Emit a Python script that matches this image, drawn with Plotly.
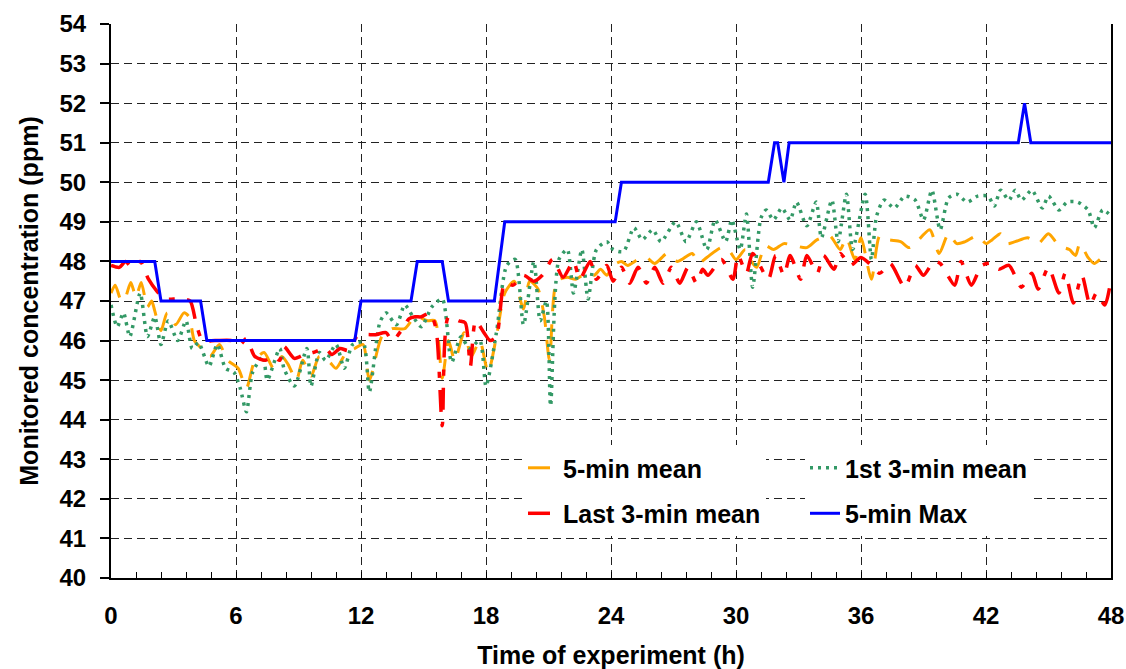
import plotly.graph_objects as go

# ---------------- data ----------------
MEAN5_H = [0.0, 0.2, 0.5, 0.7, 0.95, 1.2, 1.45, 1.75, 1.95, 2.1, 2.4, 2.7, 3.1, 3.5, 3.75, 4.0, 4.35, 4.75,
           5.2, 5.6, 6.1, 6.5, 6.9, 7.35, 7.8, 8.2, 8.5, 8.9, 9.2, 9.6, 10.0, 10.5, 10.8, 11.3, 11.7, 12.1,
           12.4, 13.0, 13.5, 14.1, 14.6, 15.2, 15.55, 15.9, 16.2, 16.5, 16.95, 17.3, 17.7, 18.1, 18.5, 18.9,
           19.35, 19.8, 20.1, 20.5, 20.8, 21.05, 21.4, 21.9, 22.3, 22.8, 23.2, 23.5, 23.8, 24.1, 24.5, 24.8,
           25.3, 25.7, 26.1, 26.7, 27.2, 27.9, 28.2, 28.6, 29.3, 29.7, 30.0, 30.45, 30.8, 31.0, 31.4, 31.8,
           32.3, 32.8, 33.4, 33.9, 34.5, 35.0, 35.3, 35.7, 36.0, 36.5, 36.9, 37.3, 37.9, 38.3, 38.6, 39.3,
           39.75, 40.2, 40.6, 41.0, 41.6, 42.0, 42.3, 42.7, 43.0, 43.4, 44.0, 44.5, 45.0, 45.5, 46.0, 46.3,
           46.5, 46.9, 47.2, 47.6, 48.0]
MEAN5 = [47.2, 47.4, 47.0, 47.1, 47.47, 47.1, 47.47, 46.85, 47.0, 46.75, 46.25, 46.7, 46.4, 46.7, 46.6, 46.0,
         45.8, 45.6, 45.9, 45.5, 45.3, 44.8, 45.5, 45.7, 45.3, 45.6, 45.4, 45.0, 45.5, 45.1, 45.6, 45.45, 45.3,
         45.7, 45.8, 45.9, 45.0, 46.1, 46.3, 46.3, 46.6, 46.5, 46.5, 45.05, 46.0, 45.5, 46.2, 45.6, 46.0, 45.2,
         46.1, 47.2, 47.5, 46.8, 47.5, 47.3, 46.6, 45.5, 47.5, 47.6, 47.55, 47.7, 47.65, 47.8, 47.65, 47.9,
         48.0, 47.9, 48.05, 48.1, 47.95, 48.2, 48.0, 48.2, 47.95, 48.1, 48.35, 48.25, 48.05, 48.3, 47.95, 47.85,
         48.4, 48.3, 48.45, 48.4, 48.35, 48.55, 48.65, 48.3, 48.6, 48.05, 48.6, 47.55, 48.65, 48.55, 48.5, 48.35,
         48.45, 48.8, 48.2, 48.7, 48.45, 48.5, 48.65, 48.45, 48.55, 48.7, 48.45, 48.5, 48.6, 48.45, 48.7, 48.4,
         48.3, 48.15, 48.45, 48.1, 47.95, 48.1, 48.1]

FIRST3_H = [0.0, 0.3, 0.6, 0.9, 1.4, 1.75, 2.1, 2.4, 2.75, 3.2, 3.6, 3.9, 4.2, 4.7, 5.1, 5.5, 5.9, 6.2, 6.5,
            6.8, 7.3, 7.5, 8.1, 8.3, 8.8, 9.4, 9.6, 10.0, 10.3, 10.8, 11.2, 11.6, 12.1, 12.4, 12.9, 13.2, 13.7,
            14.1, 14.5, 14.9, 15.4, 15.9, 16.35, 16.8, 17.2, 17.7, 18.0, 18.5, 19.0, 19.4, 19.8, 20.3, 20.6,
            20.9, 21.1, 21.5, 21.9, 22.2, 22.6, 22.9, 23.3, 23.8, 24.1, 24.6, 25.1, 25.5, 26.0, 26.4, 27.1,
            27.6, 28.1, 28.6, 29.0, 29.5, 29.8, 30.2, 30.5, 30.8, 31.2, 31.45, 31.8, 32.2, 32.6, 32.9, 33.4,
            33.85, 34.1, 34.6, 34.9, 35.3, 35.6, 36.2, 36.5, 36.75, 37.1, 37.6, 38.1, 38.6, 39.0, 39.4, 39.8,
            40.2, 40.6, 41.1, 41.6, 42.1, 42.4, 42.7, 43.1, 43.4, 43.7, 44.2, 44.7, 45.0, 45.5, 45.9, 46.4,
            46.9, 47.2, 47.6, 48.0]
FIRST3 = [46.9, 46.35, 46.7, 46.1, 47.2, 46.1, 46.6, 45.9, 46.5, 46.0, 46.5, 45.8, 45.95, 45.35, 45.9, 45.3,
          45.2, 44.8, 44.2, 45.2, 45.6, 45.0, 45.8, 45.3, 44.85, 45.8, 44.85, 45.7, 45.5, 45.9, 45.3, 45.9,
          45.95, 44.7, 46.45, 46.7, 46.4, 46.9, 46.6, 46.35, 46.85, 47.05, 45.45, 46.1, 45.8, 46.0, 44.85, 46.2,
          47.9, 48.05, 46.4, 48.0, 46.5, 47.0, 44.35, 48.05, 48.3, 47.2, 48.3, 47.05, 48.3, 48.5, 48.3, 48.25,
          48.85, 48.55, 48.8, 48.5, 49.0, 48.5, 49.0, 48.3, 49.05, 48.5, 49.05, 48.3, 49.2, 47.35, 49.1, 49.3,
          49.05, 49.35, 49.05, 49.5, 48.9, 49.5, 48.6, 49.55, 48.5, 49.7, 48.3, 49.7, 48.05, 49.15, 49.55, 49.35,
          49.65, 49.55, 49.05, 49.8, 48.8, 49.6, 49.7, 49.5, 49.65, 49.65, 49.4, 49.8, 49.55, 49.8, 49.55, 49.8,
          49.35, 49.65, 49.3, 49.5, 49.5, 49.3, 48.85, 49.3, 49.15]

LAST3_H = [0.0, 0.4, 0.7, 1.0, 1.4, 1.8, 2.2, 2.6, 3.0, 3.4, 3.8, 4.1, 4.4, 5.0, 5.8, 6.2, 6.5, 6.9, 7.4, 7.8,
           8.1, 8.3, 8.8, 9.3, 9.7, 10.3, 10.6, 11.0, 11.4, 11.8, 12.2, 12.7, 13.2, 13.5, 14.0, 14.3, 14.6,
           14.9, 15.3, 15.6, 15.9, 16.2, 16.7, 17.0, 17.25, 17.5, 17.9, 18.2, 18.5, 18.9, 19.3, 19.8, 20.3,
           20.7, 21.2, 21.7, 22.2, 22.5, 23.0, 23.3, 23.8, 24.1, 24.5, 24.9, 25.3, 25.7, 26.1, 26.5, 26.9,
           27.3, 27.7, 28.1, 28.4, 28.65, 29.3, 29.85, 30.1, 30.5, 30.8, 31.55, 31.9, 32.3, 32.6, 33.1, 33.4,
           33.9, 34.2, 34.7, 35.0, 35.5, 36.0, 36.5, 36.9, 37.4, 38.1, 38.6, 39.0, 39.5, 39.8, 40.5, 40.8,
           41.3, 41.8, 42.3, 42.6, 43.1, 43.7, 44.2, 44.5, 45.0, 45.5, 45.8, 46.2, 46.6, 47.0, 47.3, 47.7,
           48.0]
LAST3 = [47.9, 47.85, 48.0, 47.85, 48.0, 47.55, 47.25, 47.05, 47.05, 47.05, 47.0, 46.4, 46.0, 46.0, 46.0, 45.9,
         46.05, 45.6, 45.5, 45.6, 45.5, 45.85, 45.55, 45.65, 45.7, 45.8, 45.65, 45.8, 45.75, 46.1, 46.15, 46.15,
         46.2, 46.0, 46.3, 46.55, 46.6, 46.6, 46.7, 46.3, 43.85, 46.6, 46.5, 46.45, 45.35, 46.5, 46.2, 46.0, 46.1,
         47.45, 47.4, 47.65, 47.5, 47.65, 48.05, 47.6, 48.0, 47.55, 48.0, 47.55, 47.9, 47.5, 47.85, 47.45, 47.85,
         47.45, 47.85, 47.45, 47.85, 47.45, 47.85, 47.45, 47.8, 47.65, 48.05, 47.55, 48.15, 47.7, 48.2, 47.55,
         48.15, 47.65, 48.15, 47.55, 48.15, 47.7, 48.15, 47.8, 48.2, 47.9, 48.1, 47.9, 47.7, 47.95, 47.35, 47.9,
         47.65, 48.0, 47.95, 47.4, 48.0, 47.4, 47.9, 47.95, 47.8, 47.9, 47.35, 47.7, 47.3, 47.85, 47.2, 47.7,
         46.95, 47.65, 46.9, 47.2, 46.9, 47.55]

MAX5_H = [0.0, 2.1, 2.4, 4.3, 4.6, 11.7, 12.0, 14.4, 14.7, 15.9, 16.2, 18.4, 18.9, 24.2, 24.5, 31.55, 31.85,
          32.0, 32.3, 32.55, 43.55, 43.85, 44.15, 48.0]
MAX5 = [48, 48, 47, 47, 46, 46, 47, 47, 48, 48, 47, 47, 49, 49, 50, 50, 51, 51, 50, 51, 51, 52, 51, 51]

Y_TICKS = list(range(40, 55))
X_TICKS = [0, 6, 12, 18, 24, 30, 36, 42, 48]

FONT = "Liberation Sans, Arial, sans-serif"
FS = 24
FS_T = 25

fig = go.Figure()
fig.add_trace(go.Scatter(x=MEAN5_H, y=MEAN5, mode="lines", name="5-min mean", legend="legend",
                         legendgroup="a",
                         line=dict(color="#FFA500", width=3, dash="22px,13px", shape="spline", smoothing=0.7)))
fig.add_trace(go.Scatter(x=FIRST3_H, y=FIRST3, mode="lines", name="1st 3-min mean", legend="legend2",
                         legendgroup="b",
                         line=dict(color="#339966", width=3.5, dash="3px,5px", shape="spline", smoothing=0.7)))
fig.add_trace(go.Scatter(x=LAST3_H, y=LAST3, mode="lines", name="Last 3-min mean", legend="legend",
                         legendgroup="c",
                         line=dict(color="#FF0000", width=3.5, dash="22px,12px,6px,12px", shape="spline",
                                   smoothing=0.7)))
fig.add_trace(go.Scatter(x=MAX5_H, y=MAX5, mode="lines", name="5-min Max", legend="legend2",
                         legendgroup="d",
                         line=dict(color="#0000FF", width=3)))

legend_common = dict(bgcolor="white", borderwidth=0,
                     font=dict(family=FONT, size=FS_T, color="black", weight="bold"),
                     tracegroupgap=10, xanchor="left", yanchor="top", itemwidth=30)

fig.update_layout(
    width=1126, height=669,
    margin=dict(l=111, r=15, t=24, b=91, autoexpand=False),
    paper_bgcolor="white", plot_bgcolor="white",
    font=dict(family=FONT, size=FS, color="black", weight="bold"),
    legend=dict(x=0.412, y=0.24, **legend_common),
    legend2=dict(x=0.694, y=0.24, **legend_common),
    xaxis=dict(range=[0, 48], tickvals=X_TICKS, ticks="inside", ticklen=6, tickcolor="black",
               showline=True, linecolor="black", linewidth=1.5,
               showgrid=True, gridcolor="#222", gridwidth=1, griddash="8px,5px",
               minor=dict(dtick=1.2, tick0=0, ticks="inside", ticklen=6, tickcolor="black", showgrid=False),
               tickfont=dict(family=FONT, size=FS, weight="bold"), ticklabelstandoff=15,
               title=dict(text="Time of experiment (h)", standoff=22,
                          font=dict(family=FONT, size=FS_T, weight="bold")),
               zeroline=False, fixedrange=True),
    yaxis=dict(range=[40, 54], tickvals=Y_TICKS, ticks="outside", ticklen=9, tickcolor="black", tickwidth=1.5,
               showline=True, linecolor="black", linewidth=2, mirror=True,
               showgrid=True, gridcolor="#222", gridwidth=1, griddash="8px,5px",
               tickfont=dict(family=FONT, size=FS, weight="bold"), ticklabelstandoff=9,
               title=dict(text="Monitored concentration (ppm)", standoff=14,
                          font=dict(family=FONT, size=FS_T, weight="bold")),
               zeroline=False, fixedrange=True),
)

fig.write_html("out.html")
